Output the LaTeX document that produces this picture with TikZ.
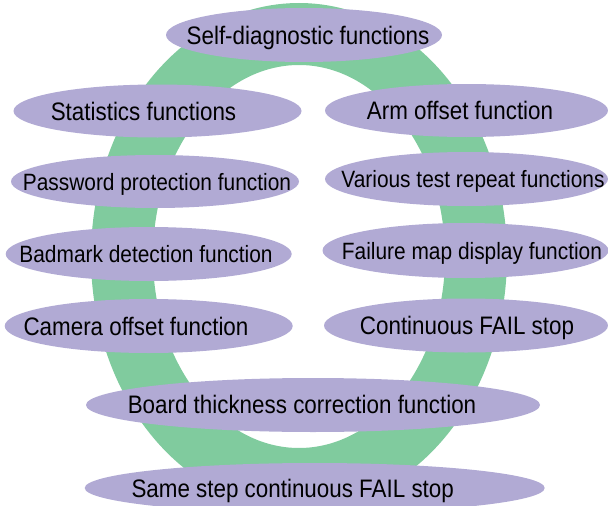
\documentclass[tikz,border=0pt]{standalone}
\usepackage{fontspec}
\setmainfont{Liberation Sans}[FakeStretch=0.885]
\usepackage{tikz}
\usetikzlibrary{shapes.geometric}
\definecolor{ringgreen}{RGB}{128,203,158}
\definecolor{funcpurple}{RGB}{177,170,212}

\begin{document}
\begin{tikzpicture}[x=1pt, y=-1pt,
  func/.style={ellipse, fill=funcpurple, inner sep=0pt},
  big/.style={anchor=base, font=\fontsize{25.3}{30}\selectfont},
  small/.style={anchor=base, font=\fontsize{23.6}{28}\selectfont}]
\useasboundingbox (0,0) rectangle (608,506);
\draw[ringgreen, line width=62pt] (299,256.5) ellipse [x radius=177pt, y radius=222.5pt];
\node[func, minimum width=276pt, minimum height=54pt] (selfdiag) at (304,35) {};
\node[big] (selfdiagtext) at (308,44) {Self-diagnostic functions};
\node[func, minimum width=288pt, minimum height=53pt] (stats) at (157.5,111) {};
\node[big] (statstext) at (143.5,120) {Statistics functions};
\node[func, minimum width=283pt, minimum height=53pt] (arm) at (466.5,110.5) {};
\node[big] (armtext) at (460,119.5) {Arm offset function};
\node[func, minimum width=288pt, minimum height=53pt] (password) at (155,181.5) {};
\node[small] (passwordtext) at (157,190) {Password protection function};
\node[func, minimum width=283pt, minimum height=54pt] (various) at (466.5,179) {};
\node[small] (varioustext) at (473,187.5) {Various test repeat functions};
\node[func, minimum width=286pt, minimum height=54pt] (badmark) at (148.7,254) {};
\node[small] (badmarktext) at (146,262.5) {Badmark detection function};
\node[func, minimum width=286pt, minimum height=55pt] (failure) at (465.5,250.5) {};
\node[small] (failuretext) at (472,259.5) {Failure map display function};
\node[func, minimum width=288pt, minimum height=54pt] (camera) at (148.7,326) {};
\node[big] (cameratext) at (136,335) {Camera offset function};
\node[func, minimum width=284pt, minimum height=54pt] (contfail) at (466,325.5) {};
\node[big] (contfailtext) at (467,334.5) {Continuous FAIL stop};
\node[func, minimum width=454pt, minimum height=54pt] (board) at (313,405) {};
\node[big] (boardtext) at (302,413.5) {Board thickness correction function};
\node[func, minimum width=460pt, minimum height=50pt] (samestep) at (314.7,488) {};
\node[big] (samesteptext) at (292.7,497.5) {Same step continuous FAIL stop};
\end{tikzpicture}
\end{document}
